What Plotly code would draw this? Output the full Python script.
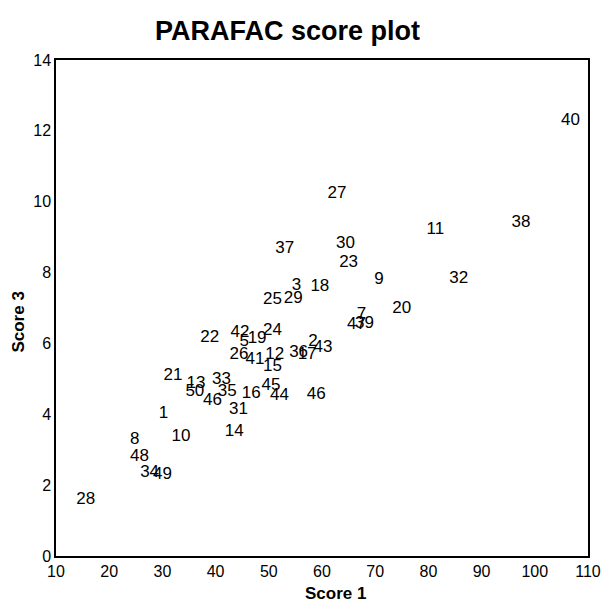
import plotly.graph_objects as go

labels = ["40", "27", "11", "38", "37", "30", "23", "9", "32", "3", "18", "25", "29", "20",
          "7", "47", "39", "24", "22", "42", "19", "5", "2", "43", "36", "17", "26", "41",
          "12", "15", "21", "33", "13", "50", "45", "35", "16", "44", "46", "46", "31", "1",
          "14", "10", "8", "48", "34", "49", "28"]
score1 = [106.7, 62.8, 81.3, 97.4, 53.0, 64.4, 65.0, 70.7, 85.7, 55.2, 59.6, 50.7, 54.6, 75.0,
          67.4, 66.5, 68.0, 50.7, 38.9, 44.6, 47.8, 45.4, 58.3, 60.2, 55.6, 57.2, 44.4, 47.4,
          51.1, 50.7, 32.0, 41.1, 36.3, 36.1, 50.4, 42.2, 46.7, 52.0, 58.9, 39.4, 44.3, 30.2,
          43.5, 33.5, 24.8, 25.7, 27.6, 30.0, 15.6]
score3 = [12.28, 10.22, 9.20, 9.40, 8.66, 8.81, 8.27, 7.79, 7.82, 7.62, 7.59, 7.23, 7.25, 6.97,
          6.80, 6.52, 6.55, 6.35, 6.15, 6.29, 6.12, 6.04, 6.04, 5.87, 5.73, 5.67, 5.67, 5.53,
          5.67, 5.33, 5.08, 4.97, 4.85, 4.63, 4.80, 4.63, 4.57, 4.52, 4.54, 4.37, 4.12, 4.01,
          3.50, 3.36, 3.27, 2.79, 2.34, 2.29, 1.58]

FONT = "Arial, Liberation Sans, sans-serif"
W, H = 613, 603
L, R, T, B = 56, 17, 60, 47

fig = go.Figure()
fig.add_trace(go.Scatter(
    x=score1, y=score3, text=labels, mode="text",
    textposition="middle center",
    textfont=dict(family=FONT, size=17, color="black"),
    cliponaxis=False, hoverinfo="skip", showlegend=False,
))

axis_common = dict(showgrid=False, zeroline=False, showline=True, linecolor="black",
                   linewidth=1.5, mirror=True, ticks="",
                   tickfont=dict(family=FONT, size=16, color="black"))
fig.update_xaxes(range=[10, 110], tickmode="linear", tick0=10, dtick=10, **axis_common)
fig.update_yaxes(range=[0, 14], tickmode="linear", tick0=0, dtick=2, **axis_common)

fig.update_layout(
    width=W, height=H,
    margin=dict(l=L, r=R, t=T, b=B),
    paper_bgcolor="white", plot_bgcolor="white",
    title=dict(text="<b>PARAFAC score plot</b>", xref="paper", x=(291 - L) / (W - L - R),
               xanchor="center", yref="container", y=1 - 31 / H, yanchor="middle",
               font=dict(family=FONT, size=27, color="black")),
    annotations=[
        dict(text="<b>Score 1</b>", xref="paper", yref="paper",
             x=(340 - L) / (W - L - R), y=-(593 - (H - B)) / (H - T - B),
             xanchor="center", yanchor="middle", showarrow=False,
             font=dict(family=FONT, size=17, color="black")),
        dict(text="<b>Score 3</b>", xref="paper", yref="paper",
             x=-(L - 17) / (W - L - R), y=((H - B) - 322) / (H - T - B),
             xanchor="center", yanchor="middle", textangle=-90, showarrow=False,
             font=dict(family=FONT, size=17, color="black")),
    ],
)

fig.write_html("out.html")
